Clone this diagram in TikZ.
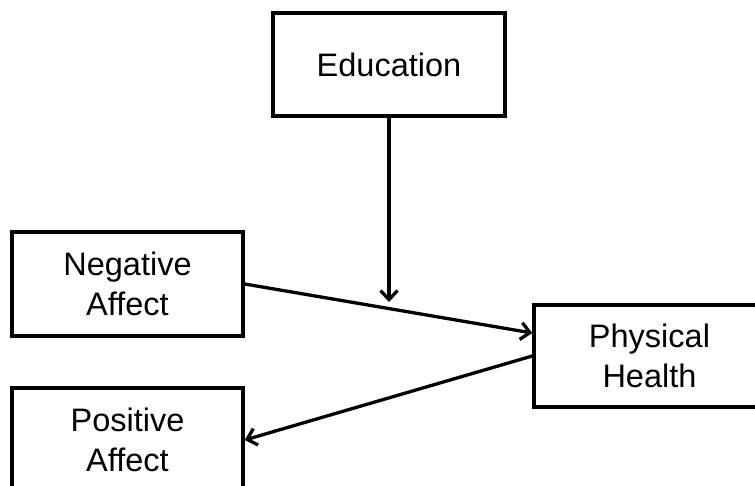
\documentclass[tikz,border=0pt]{standalone}
\usepackage{fontspec}
\setmainfont{Liberation Sans}
\usetikzlibrary{arrows.meta}
\begin{document}
\begin{tikzpicture}[x=1pt,y=-1pt,
  varbox/.style={draw=black,line width=3.5pt,fill=white,align=center,
    inner sep=0pt,font=\fontsize{32.5}{40}\selectfont},
  path/.style={line width=3.3pt,-{Straight Barb[length=9pt,width=17pt,line width=3.3pt]}}]
  \clip (0,0) rectangle (755,486);
  \useasboundingbox (0,0) rectangle (755,486);
  \node[varbox,minimum width=232pt,minimum height=103pt] (edu) at (389,64.5) {\raisebox{-2pt}{Education}};
  \node[varbox,minimum width=231pt,minimum height=104pt] (na) at (127.5,284) {Negative\\Affect};
  \node[varbox,minimum width=231pt,minimum height=104pt] (pa) at (127.5,440) {Positive\\Affect};
  \node[varbox,minimum width=231pt,minimum height=102pt] (ph) at (649.5,356) {Physical\\Health};
  \coordinate (mod) at (389,302);
  \draw[path] (na.east) -- ([yshift=23pt]ph.west);
  \draw[path] (ph.west) -- (pa.east);
  \draw[path] (edu.south) -- (mod);
\end{tikzpicture}
\end{document}
